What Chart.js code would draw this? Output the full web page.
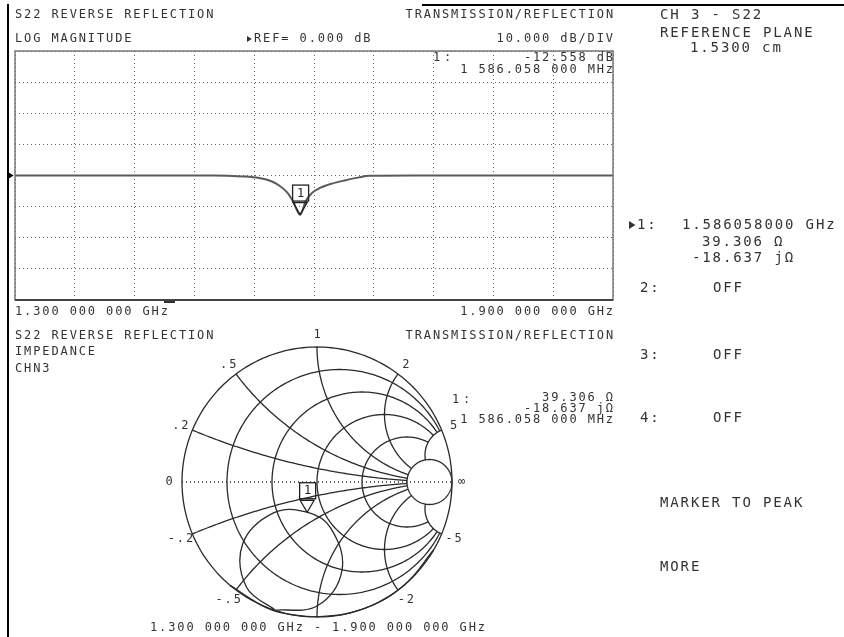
<!DOCTYPE html>
<html>
<head>
<meta charset="utf-8">
<script src="https://cdn.jsdelivr.net/npm/chart.js@4.4.0/dist/chart.umd.min.js"></script>
<style>
html, body { margin: 0; padding: 0; background: #fff; }
#wrap { position: relative; width: 844px; height: 637px; }
canvas { position: absolute; left: 0; top: 0; }
</style>
</head>
<body>
<div id="wrap">
<canvas id="logmag" width="844" height="637"></canvas>
<canvas id="smith" width="844" height="637"></canvas>
</div>
<script>
// 周波数 (MHz) と反射量 (dB)
var freqMHz = [1300, 1400, 1500, 1528, 1545, 1556, 1565, 1573, 1579, 1586, 1592, 1598, 1606, 1618, 1632, 1645, 1655, 1700, 1800, 1900];
var magDb = [0, 0, 0, -0.3, -0.8, -1.7, -3.2, -5.4, -8.3, -12.56, -8.0, -5.6, -4.0, -2.6, -1.5, -0.6, -0.1, 0, 0, 0];

// マーカー1
var markerFreq = 1586.058;
var markerDb = -12.558;

// スミスチャート上の軌跡 (反射係数の実部・虚部)
var gammaRe = [0.866, 0.643, 0.342, 0.0, -0.174, -0.309, 0.0, 0.185, 0.102, -0.073, -0.322, -0.550, -0.522, -0.309, -0.423, -0.643];
var gammaIm = [-0.5, -0.766, -0.940, -1.0, -0.985, -0.951, -0.919, -0.654, -0.342, -0.224, -0.229, -0.457, -0.779, -0.951, -0.906, -0.766];
var markerGammaRe = -0.073;
var markerGammaIm = -0.224;

// スミスチャートの目盛り
var resistanceCircles = [0, 0.2, 0.5, 1, 2, 5];
var reactanceArcs = [0.2, 0.5, 1, 2, 5, -0.2, -0.5, -1, -2, -5];
var smithTickValues = [0, 0.2, 0.5, 1, 2, 5, -0.2, -0.5, -2, -5];
var smithTickLabels = ['0', '.2', '.5', '1', '2', '5', '-.2', '-.5', '-2', '-5'];

// 等幅の文字を描く
function drawText(ctx, str, x, y, size, pitch, align) {
    var advance = size * 0.602;
    var spacing = pitch - advance;
    ctx.font = size + 'px "DejaVu Sans Mono"';
    ctx.textBaseline = 'middle';
    ctx.textAlign = 'left';
    ctx.letterSpacing = spacing.toFixed(2) + 'px';
    var w = str.length * pitch - spacing;
    var x0 = x;
    if (align === 'right') x0 = x - w;
    if (align === 'center') x0 = x - w / 2;
    ctx.fillText(str, x0, y);
    ctx.letterSpacing = '0px';
}
function small(ctx, str, x, y, align) { drawText(ctx, str, x, y, 12, 9.1, align); }
function big(ctx, str, x, y, align) { drawText(ctx, str, x, y, 14, 10.3, align); }

// 小さな三角形 (右向き)
function arrowRight(ctx, x, y, h) {
    ctx.beginPath();
    ctx.moveTo(x, y - h / 2);
    ctx.lineTo(x + h * 0.8, y);
    ctx.lineTo(x, y + h / 2);
    ctx.closePath();
    ctx.fill();
}

// マーカー記号 (三角形と番号の箱)
function drawMarker(ctx, px, py) {
    ctx.save();
    ctx.strokeStyle = '#222';
    ctx.lineWidth = 1.3;
    ctx.beginPath();
    ctx.moveTo(px - 7, py - 12);
    ctx.lineTo(px + 7, py - 12);
    ctx.lineTo(px, py);
    ctx.closePath();
    ctx.stroke();
    ctx.strokeRect(px - 7.5, py - 29.5, 16, 16);
    ctx.fillStyle = '#222';
    small(ctx, '1', px + 0.5, py - 21, 'center');
    ctx.restore();
}

// 画面全体の文字と枠
var pageText = {
    id: 'pageText',
    afterDraw: function(chart) {
        var ctx = chart.ctx;
        var a = chart.chartArea;
        ctx.save();
        // 外枠
        ctx.fillStyle = '#000';
        ctx.fillRect(7, 4, 2, 633);
        ctx.fillRect(422, 4, 422, 2);
        // グラフの枠
        ctx.strokeStyle = '#777';
        ctx.lineWidth = 1.5;
        ctx.strokeRect(a.left, a.top, a.right - a.left, a.bottom - a.top);
        ctx.strokeStyle = '#444';
        ctx.lineWidth = 2;
        ctx.beginPath();
        ctx.moveTo(a.left, a.bottom);
        ctx.lineTo(a.right, a.bottom);
        ctx.stroke();
        ctx.fillStyle = '#333';
        ctx.fillRect(164, a.bottom + 1, 11, 2);
        // 基準線の矢印
        ctx.fillStyle = '#000';
        var refY = chart.scales.y.getPixelForValue(0);
        arrowRight(ctx, 8, refY, 7);

        ctx.fillStyle = '#333';
        // 上のグラフ
        small(ctx, 'S22 REVERSE REFLECTION', 15, 15, 'left');
        small(ctx, 'LOG MAGNITUDE', 15, 39, 'left');
        arrowRight(ctx, 247, 39, 6);
        small(ctx, 'REF= 0.000 dB', 254, 39, 'left');
        small(ctx, 'TRANSMISSION/REFLECTION', 613, 15, 'right');
        small(ctx, '10.000 dB/DIV', 613, 39, 'right');
        small(ctx, '1', 433, 58, 'left');
        small(ctx, ':', 444, 58, 'left');
        small(ctx, '-12.558 dB', 613, 58, 'right');
        small(ctx, '1 586.058 000 MHz', 613, 70, 'right');
        small(ctx, '1.300 000 000 GHz', 15, 312, 'left');
        small(ctx, '1.900 000 000 GHz', 613, 312, 'right');

        // 下のグラフ
        small(ctx, 'S22 REVERSE REFLECTION', 15, 336, 'left');
        small(ctx, 'IMPEDANCE', 15, 352, 'left');
        small(ctx, 'CHN3', 15, 369, 'left');
        small(ctx, 'TRANSMISSION/REFLECTION', 613, 336, 'right');
        small(ctx, '1', 452, 400, 'left');
        small(ctx, ':', 463, 400, 'left');
        small(ctx, '39.306 \u03A9', 613, 398, 'right');
        small(ctx, '-18.637 j\u03A9', 613, 409, 'right');
        small(ctx, '1 586.058 000 MHz', 613, 420, 'right');
        small(ctx, '1.300 000 000 GHz - 1.900 000 000 GHz', 150, 628, 'left');

        // 右側のメニュー
        big(ctx, 'CH 3 - S22', 660, 15, 'left');
        big(ctx, 'REFERENCE PLANE', 660, 33, 'left');
        big(ctx, '1.5300 cm', 690, 48, 'left');
        arrowRight(ctx, 629, 225, 8);
        big(ctx, '1:', 637, 225, 'left');
        big(ctx, '1.586058000 GHz', 682, 225, 'left');
        big(ctx, '39.306 \u03A9', 702, 242, 'left');
        big(ctx, '-18.637 j\u03A9', 692, 258, 'left');
        big(ctx, '2:', 640, 288, 'left');
        big(ctx, 'OFF', 713, 288, 'left');
        big(ctx, '3:', 640, 355, 'left');
        big(ctx, 'OFF', 713, 355, 'left');
        big(ctx, '4:', 640, 418, 'left');
        big(ctx, 'OFF', 713, 418, 'left');
        big(ctx, 'MARKER TO PEAK', 660, 503, 'left');
        big(ctx, 'MORE', 660, 567, 'left');
        ctx.restore();
    },
    afterDatasetsDraw: function(chart) {
        var px = chart.scales.x.getPixelForValue(markerFreq);
        var py = chart.scales.y.getPixelForValue(markerDb);
        drawMarker(chart.ctx, px, py);
    }
};

// 上のグラフ (対数振幅)
var logData = [];
for (var i = 0; i < freqMHz.length; i++) {
    logData.push({ x: freqMHz[i], y: magDb[i] });
}
var ctx1 = document.getElementById('logmag').getContext('2d');
var magChart = new Chart(ctx1, {
    type: 'scatter',
    data: {
        datasets: [{
            data: logData,
            showLine: true,
            borderColor: '#5a5a5a',
            borderWidth: 2,
            pointRadius: 0,
            cubicInterpolationMode: 'monotone'
        }]
    },
    options: {
        responsive: false,
        animation: false,
        devicePixelRatio: 1,
        layout: { padding: { left: 15, top: 51, right: 231, bottom: 337 } },
        plugins: { legend: { display: false }, tooltip: { enabled: false } },
        scales: {
            x: {
                type: 'linear', min: 1300, max: 1900,
                ticks: { display: false, stepSize: 60 },
                grid: { color: '#666', lineWidth: 1, drawTicks: false },
                border: { display: false, dash: [1, 3] }
            },
            y: {
                type: 'linear', min: -40, max: 40,
                ticks: { display: false, stepSize: 10 },
                grid: { color: '#666', lineWidth: 1, drawTicks: false },
                border: { display: false, dash: [1, 3] }
            }
        }
    },
    plugins: [pageText]
});

// スミスチャート用: 反射係数から画面座標へ
function gPx(chart, re, im) {
    return [chart.scales.x.getPixelForValue(re), chart.scales.y.getPixelForValue(im)];
}
function strokePts(ctx, pts) {
    ctx.beginPath();
    for (var k = 0; k < pts.length; k++) {
        if (k === 0) ctx.moveTo(pts[k][0], pts[k][1]);
        else ctx.lineTo(pts[k][0], pts[k][1]);
    }
    ctx.stroke();
}
function zToGamma(r, x) {
    var den = (r + 1) * (r + 1) + x * x;
    return [(r * r - 1 + x * x) / den, 2 * x / den];
}

// スミスチャートの目盛り線
var smithGrid = {
    id: 'smithGrid',
    beforeDatasetsDraw: function(chart) {
        var ctx = chart.ctx;
        ctx.save();
        ctx.strokeStyle = '#2a2a2a';
        ctx.lineWidth = 1.3;
        // 実軸 (点線)
        ctx.setLineDash([1, 3]);
        strokePts(ctx, [gPx(chart, -1, 0), gPx(chart, 1, 0)]);
        ctx.setLineDash([]);
        // 等抵抗円
        resistanceCircles.forEach(function(r) {
            var c = r / (1 + r), R = 1 / (1 + r);
            var start = 0, end = 2 * Math.PI;
            if (r > 0 && r < 5) {
                var g = zToGamma(r, 5);
                start = Math.atan2(g[1], g[0] - c);
                end = 2 * Math.PI - start;
            }
            var pts = [];
            for (var k = 0; k <= 240; k++) {
                var p = start + (end - start) * k / 240;
                pts.push(gPx(chart, c + R * Math.cos(p), R * Math.sin(p)));
            }
            strokePts(ctx, pts);
        });
        // 等リアクタンス円弧
        reactanceArcs.forEach(function(x) {
            var pts = [];
            for (var k = 0; k <= 120; k++) {
                var s = k / 120;
                var g = zToGamma(5 * s * s, x);
                pts.push(gPx(chart, g[0], g[1]));
            }
            strokePts(ctx, pts);
        });
        // 目盛りの文字
        var cx = chart.scales.x.getPixelForValue(0);
        var cy = chart.scales.y.getPixelForValue(0);
        var rad = chart.scales.x.getPixelForValue(1) - cx;
        ctx.fillStyle = '#333';
        smithTickValues.forEach(function(x, i) {
            var g = zToGamma(0, x);
            var lx = cx + g[0] * (rad + 13);
            var ly = cy - g[1] * (rad + 12);
            small(ctx, smithTickLabels[i], lx, ly, 'center');
        });
        small(ctx, '\u221E', cx + rad + 6, cy, 'left');
        ctx.restore();
    },
    afterDatasetsDraw: function(chart) {
        var p = gPx(chart, markerGammaRe, markerGammaIm);
        drawMarker(chart.ctx, p[0], p[1]);
    }
};

// 下のグラフ (スミスチャート)
var smithData = [];
for (var j = 0; j < gammaRe.length; j++) {
    smithData.push({ x: gammaRe[j], y: gammaIm[j] });
}
var ctx2 = document.getElementById('smith').getContext('2d');
var smithChart = new Chart(ctx2, {
    type: 'scatter',
    data: {
        datasets: [{
            data: smithData,
            showLine: true,
            borderColor: '#2a2a2a',
            borderWidth: 1.3,
            pointRadius: 0,
            tension: 0.4
        }]
    },
    options: {
        responsive: false,
        animation: false,
        devicePixelRatio: 1,
        layout: { padding: { left: 182, top: 347, right: 392, bottom: 20 } },
        plugins: { legend: { display: false }, tooltip: { enabled: false } },
        scales: {
            x: { type: 'linear', min: -1, max: 1, display: false },
            y: { type: 'linear', min: -1, max: 1, display: false }
        }
    },
    plugins: [smithGrid]
});
</script>
</body>
</html>
